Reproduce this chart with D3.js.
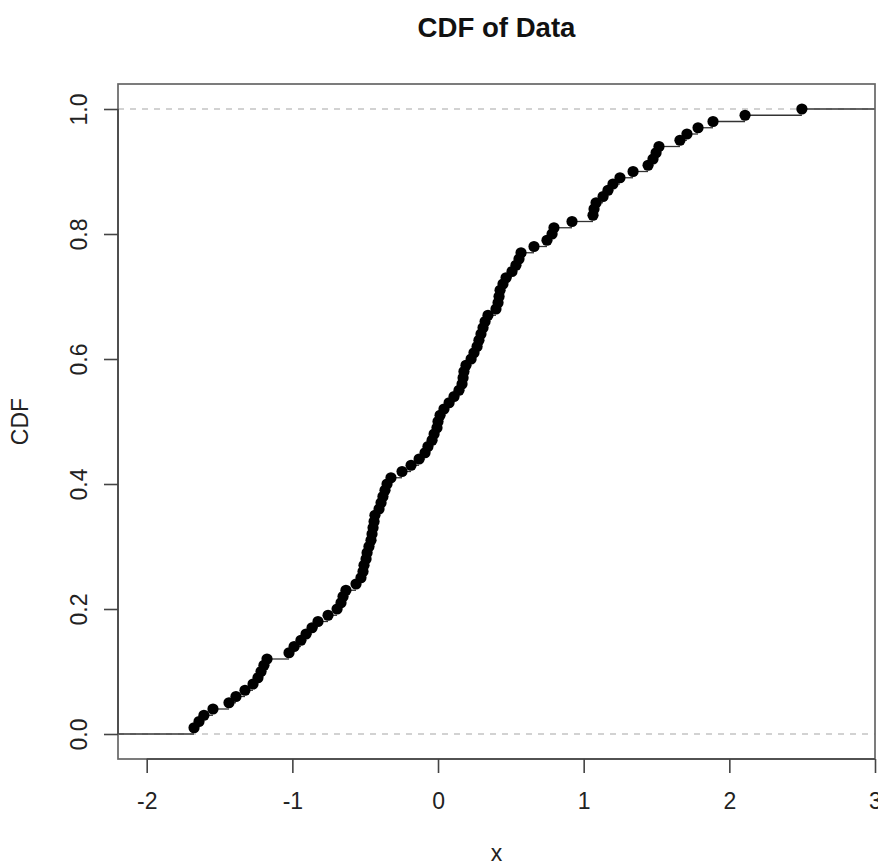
<!DOCTYPE html>
<html>
<head>
<meta charset="utf-8">
<script src="https://cdn.jsdelivr.net/npm/d3@7/dist/d3.min.js"></script>
<style>
  body { margin: 0; background: #fff; }
  svg { display: block; font-family: "Liberation Sans", Arial, Helvetica, sans-serif; }
</style>
</head>
<body>
<svg width="878" height="866"></svg>
<script>
// sorted sample values (one point per 1/100 step)
const xValues = [
  -1.675, -1.641, -1.607, -1.545, -1.435, -1.387, -1.325, -1.270, -1.236, -1.215,
  -1.195, -1.174, -1.023, -0.988, -0.941, -0.906, -0.865, -0.824, -0.755, -0.693,
  -0.666, -0.652, -0.632, -0.563, -0.529, -0.515, -0.508, -0.494, -0.487, -0.474,
  -0.460, -0.453, -0.446, -0.439, -0.433, -0.405, -0.391, -0.378, -0.364, -0.350,
  -0.323, -0.247, -0.185, -0.130, -0.089, -0.069, -0.041, -0.027, -0.007, 0.000,
  0.014, 0.041, 0.076, 0.110, 0.144, 0.165, 0.172, 0.178, 0.192, 0.227,
  0.247, 0.268, 0.281, 0.295, 0.309, 0.323, 0.343, 0.398, 0.412, 0.419,
  0.426, 0.446, 0.467, 0.508, 0.535, 0.556, 0.570, 0.659, 0.748, 0.783,
  0.796, 0.920, 1.064, 1.071, 1.085, 1.133, 1.167, 1.201, 1.249, 1.339,
  1.442, 1.476, 1.497, 1.517, 1.661, 1.709, 1.785, 1.888, 2.108, 2.498
];
const xTicks = [-2, -1, 0, 1, 2, 3];
const yTicks = [0, 0.2, 0.4, 0.6, 0.8, 1.0];
const refLines = [0, 1];
const xDomain = [-2.197, 3.0];
const yDomain = [-0.04, 1.04];

const n = xValues.length;
const pts = xValues.map((v, i) => ({ x: v, y: (i + 1) / n }));

const box = { left: 118, right: 875, top: 84, bottom: 759 };
const svg = d3.select('svg');

const x = d3.scaleLinear().domain(xDomain).range([box.left, box.right]);
const y = d3.scaleLinear().domain(yDomain).range([box.bottom, box.top]);

svg.append('defs').append('clipPath').attr('id', 'plotclip')
  .append('rect')
  .attr('x', box.left).attr('y', box.top)
  .attr('width', box.right - box.left).attr('height', box.bottom - box.top);

const plot = svg.append('g').attr('clip-path', 'url(#plotclip)');

// dashed lines at 0 and 1
plot.selectAll('line.ref')
  .data(refLines)
  .enter()
  .append('line')
  .attr('class', 'ref')
  .attr('x1', box.left).attr('x2', box.right)
  .attr('y1', (d) => y(d)).attr('y2', (d) => y(d))
  .style('stroke', '#c4c4c4')
  .style('stroke-width', 1.3)
  .style('stroke-dasharray', '6,6');

// horizontal steps
const steps = d3.range(n + 1).map((i) => ({
  x1: i === 0 ? xDomain[0] - 1 : xValues[i - 1],
  x2: i === n ? xDomain[1] + 1 : xValues[i],
  level: i / n,
}));

plot.selectAll('line.step')
  .data(steps)
  .enter()
  .append('line')
  .attr('class', 'step')
  .attr('x1', (d) => x(d.x1)).attr('x2', (d) => x(d.x2))
  .attr('y1', (d) => y(d.level)).attr('y2', (d) => y(d.level))
  .style('stroke', '#333')
  .style('stroke-width', 1.3);

plot.selectAll('circle')
  .data(pts)
  .enter()
  .append('circle')
  .attr('cx', (d) => x(d.x))
  .attr('cy', (d) => y(d.y))
  .attr('r', 5.6)
  .style('fill', '#000');

// box
svg.append('rect')
  .attr('x', box.left).attr('y', box.top)
  .attr('width', box.right - box.left).attr('height', box.bottom - box.top)
  .style('fill', 'none')
  .style('stroke', '#666')
  .style('stroke-width', 1.7);

// x axis
const xAxis = svg.append('g')
  .attr('transform', `translate(0,${box.bottom})`)
  .call(d3.axisBottom(x).tickValues(xTicks).tickFormat((d) => String(d))
    .tickSize(14).tickPadding(20).tickSizeOuter(0));
xAxis.select('.domain').remove();
xAxis.append('line')
  .attr('x1', x(xTicks[0])).attr('x2', x(xTicks[xTicks.length - 1]))
  .style('stroke', '#444').style('stroke-width', 1.6);
xAxis.selectAll('.tick line').style('stroke', '#444').style('stroke-width', 1.6);
xAxis.selectAll('.tick text')
  .style('font-size', '23px')
  .style('fill', '#222')
  .style('font-family', '"Liberation Sans", Arial, sans-serif');

// y axis, labels parallel to the axis
const yAxis = svg.append('g')
  .attr('transform', `translate(${box.left},0)`)
  .call(d3.axisLeft(y).tickValues(yTicks).tickFormat(d3.format('.1f'))
    .tickSize(14).tickSizeOuter(0));
yAxis.select('.domain').remove();
yAxis.append('line')
  .attr('y1', y(yTicks[0])).attr('y2', y(yTicks[yTicks.length - 1]))
  .style('stroke', '#444').style('stroke-width', 1.6);
yAxis.selectAll('.tick line').style('stroke', '#444').style('stroke-width', 1.6);
yAxis.selectAll('.tick text')
  .attr('x', null)
  .attr('dy', null)
  .attr('text-anchor', 'middle')
  .attr('transform', 'translate(-31,0) rotate(-90)')
  .style('font-size', '23px')
  .style('fill', '#222')
  .style('font-family', '"Liberation Sans", Arial, sans-serif');

// titles
svg.append('text')
  .attr('x', (box.left + box.right) / 2)
  .attr('y', 37)
  .attr('text-anchor', 'middle')
  .style('font-size', '27.6px')
  .style('font-weight', 'bold')
  .style('fill', '#111')
  .text('CDF of Data');

svg.append('text')
  .attr('x', (box.left + box.right) / 2)
  .attr('y', 861)
  .attr('text-anchor', 'middle')
  .style('font-size', '23px')
  .style('fill', '#222')
  .text('x');

svg.append('text')
  .attr('transform', `translate(28,${(box.top + box.bottom) / 2}) rotate(-90)`)
  .attr('text-anchor', 'middle')
  .style('font-size', '23px')
  .style('fill', '#222')
  .text('CDF');
</script>
</body>
</html>
